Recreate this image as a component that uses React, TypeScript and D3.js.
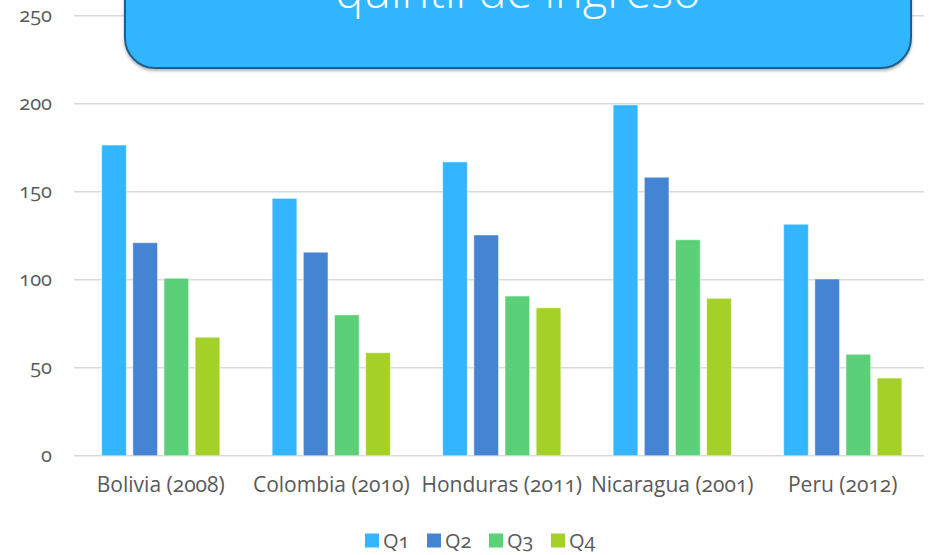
import React from 'react'
import { scaleBand, scaleLinear } from 'd3'

const countries = ['Bolivia (2008)', 'Colombia (2010)', 'Honduras (2011)', 'Nicaragua (2001)', 'Peru (2012)']
const quintiles = ['Q1', 'Q2', 'Q3', 'Q4']
const q1 = [176.5, 146.2, 166.9, 199.3, 131.5]
const q2 = [121, 115.6, 125.4, 158.2, 100.4]
const q3 = [100.8, 80, 90.7, 122.7, 57.6]
const q4 = [67.3, 58.5, 84, 89.4, 44.1]
const yTicks = [0, 50, 100, 150, 200, 250]
const colors = ['#33B5FF', '#4584D3', '#5BD078', '#A5D028']
const titleText = 'quintil de ingreso'

const series = [q1, q2, q3, q4]
const font = "'Open Sans', Lato, sans-serif"

const App = () => {
    const width = 930
    const height = 555
    const x0 = scaleBand().domain(countries).range([75.5, 928])
    const x1 = scaleBand().domain(quintiles).range([0, x0.bandwidth()]).paddingInner(0.21).paddingOuter(0.84)
    const y = scaleLinear().domain([0, 250]).range([455.7, 15.7])

    return (
        <svg width={width} height={height} style={{ position: 'absolute', left: 0, top: 0, fontFamily: font, fontVariantNumeric: 'oldstyle-nums' }}>
            <rect width={width} height={height} fill='#fff' />
            {/* gridlines */}
            {yTicks.map((t) => (
                <g key={t}>
                    <line x1={74} x2={924} y1={y(t)} y2={y(t)} stroke='#D9D9D9' strokeWidth={1.5} />
                    <text x={52} y={y(t)} dy='0.3em' textAnchor='end' fontSize={20} fill='#595959'>{t}</text>
                </g>
            ))}
            {/* bars */}
            {countries.map((c, i) => (
                <g key={c} transform={`translate(${x0(c)},0)`}>
                    {series.map((s, k) => (
                        <rect key={k} x={x1(quintiles[k])} y={y(s[i])} width={x1.bandwidth()} height={y(0) - y(s[i])}
                            fill={colors[k]} stroke='#ffffff' strokeOpacity={0.45} strokeWidth={1} />
                    ))}
                    <text x={x0.bandwidth() / 2} y={492} textAnchor='middle' fontSize={21} fill='#595959'>{c}</text>
                </g>
            ))}
            {/* title box */}
            <defs>
                <filter id='sh' x='-5%' y='-5%' width='110%' height='120%'>
                    <feDropShadow dx={0} dy={2} stdDeviation={1.5} floodColor='#000' floodOpacity={0.3} />
                </filter>
            </defs>
            <rect x={125} y={-60} width={786} height={128} rx={30} ry={30} fill='#33B5FF' stroke='#1E5F8A' strokeWidth={2} filter='url(#sh)' />
            <text x={518} y={7.5} textAnchor='middle' fontSize={47} fill='#fff' fontWeight={300}>{titleText}</text>
            {/* legend */}
            {quintiles.map((q, k) => (
                <g key={q} transform={`translate(${365 + k * 62},533.5)`}>
                    <rect width={14} height={14} fill={colors[k]} />
                    <text x={18} y={7} dy='0.35em' fontSize={20} fill='#595959'>{q}</text>
                </g>
            ))}
        </svg>
    )
}

export default App
